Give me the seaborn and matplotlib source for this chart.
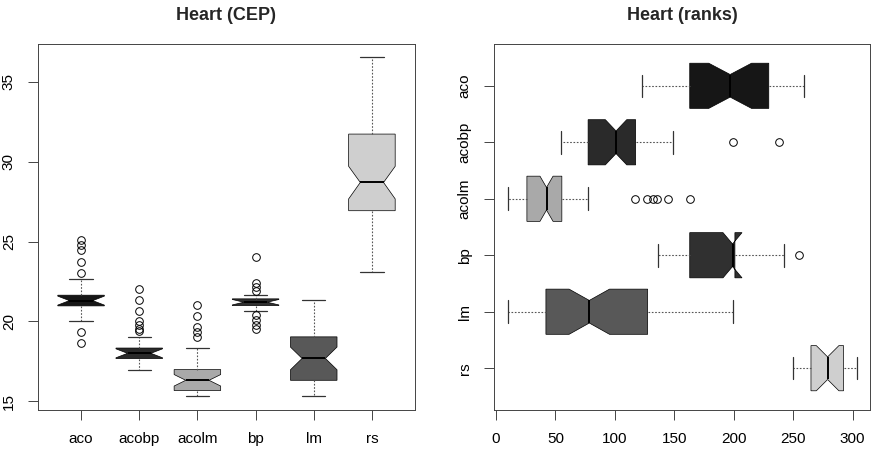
import matplotlib
matplotlib.use("Agg")
import matplotlib.pyplot as plt
import seaborn as sns

# ---- data (summary statistics per method) ----
methods = ["aco", "acobp", "acolm", "bp", "lm", "rs"]
fills = ["#161616", "#2a2a2a", "#a9a9a9", "#303030", "#585858", "#cfcfcf"]

# Heart (CEP)
cep_q1 = [20.97, 17.67, 15.67, 20.99, 16.31, 26.93]
cep_med = [21.30, 18.00, 16.31, 21.20, 17.68, 28.70]
cep_q3 = [21.64, 18.33, 16.98, 21.41, 19.03, 31.73]
cep_cilo = [21.02, 17.72, 15.95, 21.03, 16.97, 27.67]
cep_cihi = [21.58, 18.28, 16.67, 21.37, 18.39, 29.71]
cep_lo = [20.05, 16.98, 15.31, 20.63, 15.31, 23.07]
cep_hi = [22.68, 19.00, 18.32, 21.66, 21.32, 36.55]
cep_out = [
    [18.67, 19.36, 23.03, 23.70, 24.45, 24.78, 25.08],
    [19.40, 19.55, 19.78, 20.03, 20.68, 21.34, 22.00],
    [19.03, 19.35, 19.67, 20.34, 21.04],
    [19.55, 19.80, 20.10, 20.43, 21.88, 22.15, 22.40, 24.02],
    [],
    [],
]

# Heart (ranks)
rk_q1 = [163, 77.5, 26, 163, 42, 265]
rk_med = [197, 101, 42.5, 199, 78.5, 279]
rk_q3 = [229.5, 117.5, 55.4, 201, 127.6, 292.4]
rk_cilo = [179, 92, 37, 191, 61.5, 269.5]
rk_cihi = [215, 110, 48, 207, 95.5, 288.5]
rk_lo = [123, 55, 10, 136, 10, 250]
rk_hi = [259.3, 149, 77.5, 242, 199, 303.7]
rk_out = [
    [],
    [199, 238],
    [116.6, 127.2, 132, 135.7, 144.7, 163],
    [255],
    [],
    [],
]


def make_stats(q1, med, q3, cilo, cihi, lo, hi, out):
    stats = []
    for i in range(len(methods)):
        stats.append(dict(label=methods[i], q1=q1[i], med=med[i], q3=q3[i],
                          cilo=cilo[i], cihi=cihi[i], whislo=lo[i],
                          whishi=hi[i], fliers=out[i]))
    return stats


sns.set_theme(style="ticks")
plt.rcParams["font.family"] = ["Liberation Sans", "DejaVu Sans"]

fig = plt.figure(figsize=(8.76, 4.5), dpi=100)
ax1 = fig.add_axes([0.0434, 0.0889, 0.4303, 0.8133])
ax2 = fig.add_axes([0.5639, 0.0889, 0.4293, 0.8133])

box_kw = dict(
    shownotches=True, patch_artist=True, widths=0.8, capwidths=0.4,
    boxprops=dict(edgecolor="black", linewidth=0.5),
    whiskerprops=dict(color="#555555", linestyle=(0, (1.5, 1.5)), linewidth=0.8),
    capprops=dict(color="#333333", linewidth=0.9),
    medianprops=dict(color="black", linewidth=1.4),
    flierprops=dict(marker="o", markerfacecolor="none", markeredgecolor="black",
                    markersize=5.5, markeredgewidth=0.7),
)

b1 = ax1.bxp(make_stats(cep_q1, cep_med, cep_q3, cep_cilo, cep_cihi,
                        cep_lo, cep_hi, cep_out), **box_kw)
b2 = ax2.bxp(make_stats(rk_q1, rk_med, rk_q3, rk_cilo, rk_cihi,
                        rk_lo, rk_hi, rk_out), orientation="horizontal", **box_kw)
for b in (b1, b2):
    for patch, c in zip(b["boxes"], fills):
        patch.set_facecolor(c)

# left panel
ax1.set_xlim(0.26, 6.74)
ax1.set_ylim(14.45, 37.37)
ax1.set_yticks([15, 20, 25, 30, 35])
ax1.set_title("Heart (CEP)", fontsize=13, fontweight="bold", pad=17)
for lab in ax1.get_yticklabels():
    lab.set_rotation(90)
    lab.set_va("center")

# right panel
ax2.set_ylim(6.74, 0.26)
ax2.set_xlim(-1.7, 314.7)
ax2.set_xticks([0, 50, 100, 150, 200, 250, 300])
ax2.set_title("Heart (ranks)", fontsize=13, fontweight="bold", pad=17)
for lab in ax2.get_yticklabels():
    lab.set_rotation(90)
    lab.set_va("center")

for ax in (ax1, ax2):
    ax.tick_params(direction="out", length=7, width=0.7, color="#444444",
                   labelsize=11, pad=9, labelcolor="black")
    for s in ax.spines.values():
        s.set_color("#444444")
        s.set_linewidth(0.7)
    ax.grid(False)

fig.savefig("out.png", dpi=100)
